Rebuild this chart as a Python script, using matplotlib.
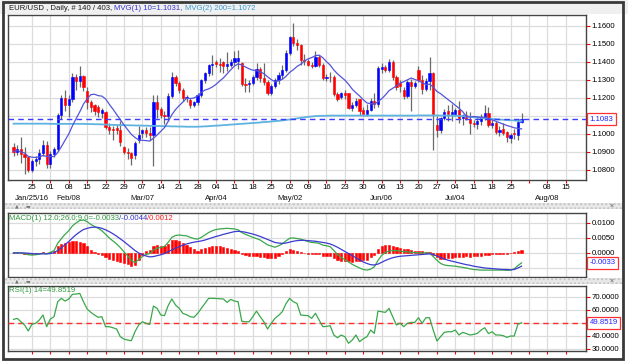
import matplotlib.pyplot as plt
import matplotlib.transforms as mtransforms
from matplotlib.patches import Rectangle
from matplotlib.offsetbox import TextArea, HPacker, AnchoredOffsetbox
import numpy as np
import pandas as pd

plt.rcParams['font.family'] = ['Liberation Sans', 'DejaVu Sans']

# ---- data: EUR/USD daily bars, 2016-01-18 .. 2016-07-28 ----
opens = [
    1.0928, 1.0902, 1.0914, 1.0886, 1.0874, 1.0800, 1.0848, 1.0862, 1.0895, 1.0940,
    1.0832, 1.0890, 1.0918, 1.1105, 1.1200, 1.1160, 1.1195, 1.1315, 1.1295, 1.1320,
    1.1240, 1.1180, 1.1160, 1.1150, 1.1115, 1.1124, 1.1040, 1.1030, 1.1032, 1.1022,
    1.0930, 1.0902, 1.0893, 1.0883, 1.0967, 1.1004, 1.1022, 1.1004, 1.0995, 1.1175,
    1.1140, 1.1105, 1.1100, 1.1210, 1.1315, 1.1282, 1.1245, 1.1200, 1.1190, 1.1162,
    1.1175, 1.1215, 1.1298, 1.1337, 1.1383, 1.1398, 1.1390, 1.1400, 1.1378, 1.1385,
    1.1400, 1.1405, 1.1395, 1.1280, 1.1275, 1.1285, 1.1316, 1.1360, 1.1310, 1.1290,
    1.1226, 1.1265, 1.1300, 1.1327, 1.1355, 1.1450, 1.1538, 1.1505, 1.1495, 1.1410,
    1.1405, 1.1385, 1.1376, 1.1430, 1.1385, 1.1310, 1.1318, 1.1318, 1.1222, 1.1205,
    1.1226, 1.1225, 1.1145, 1.1160, 1.1192, 1.1135, 1.1112, 1.1132, 1.1185, 1.1165,
    1.1360, 1.1370, 1.1356, 1.1402, 1.1318, 1.1285, 1.1245, 1.1210, 1.1290, 1.1265,
    1.1355, 1.1300, 1.1250, 1.1295, 1.1340, 1.1050, 1.1022, 1.1087, 1.1130, 1.1110,
    1.1110, 1.1133, 1.1087, 1.1105, 1.1083, 1.1060, 1.1055, 1.1070, 1.1096, 1.1115,
    1.1050, 1.1060, 1.1013, 1.1030, 1.1010, 1.0980, 1.1005, 1.0995, 1.1065,
]
highs = [
    1.0948, 1.0940, 1.0985, 1.0925, 1.0878, 1.0860, 1.0880, 1.0915, 1.0968, 1.0962,
    1.0905, 1.0930, 1.1115, 1.1215, 1.1245, 1.1215, 1.1340, 1.1335, 1.1378, 1.1330,
    1.1262, 1.1190, 1.1168, 1.1160, 1.1145, 1.1130, 1.1060, 1.1045, 1.1048, 1.1070,
    1.0935, 1.0920, 1.0900, 1.0960, 1.1045, 1.1030, 1.1040, 1.1040, 1.1218, 1.1218,
    1.1150, 1.1125, 1.1230, 1.1342, 1.1330, 1.1295, 1.1255, 1.1215, 1.1200, 1.1185,
    1.1225, 1.1305, 1.1345, 1.1390, 1.1438, 1.1410, 1.1420, 1.1405, 1.1455, 1.1415,
    1.1460, 1.1465, 1.1400, 1.1310, 1.1300, 1.1325, 1.1395, 1.1370, 1.1395, 1.1300,
    1.1275, 1.1310, 1.1345, 1.1385, 1.1465, 1.1545, 1.1616, 1.1530, 1.1500, 1.1445,
    1.1415, 1.1400, 1.1460, 1.1440, 1.1395, 1.1335, 1.1345, 1.1330, 1.1235, 1.1235,
    1.1245, 1.1230, 1.1175, 1.1200, 1.1195, 1.1150, 1.1165, 1.1200, 1.1225, 1.1375,
    1.1395, 1.1385, 1.1415, 1.1410, 1.1330, 1.1300, 1.1260, 1.1300, 1.1305, 1.1295,
    1.1380, 1.1325, 1.1310, 1.1428, 1.1345, 1.1100, 1.1095, 1.1140, 1.1160, 1.1165,
    1.1145, 1.1185, 1.1110, 1.1125, 1.1120, 1.1075, 1.1095, 1.1110, 1.1160, 1.1150,
    1.1085, 1.1070, 1.1045, 1.1060, 1.1015, 1.1005, 1.1030, 1.1075, 1.1115,
]
lows = [
    1.0880, 1.0885, 1.0838, 1.0780, 1.0790, 1.0790, 1.0820, 1.0835, 1.0880, 1.0810,
    1.0812, 1.0872, 1.0905, 1.1085, 1.1130, 1.1095, 1.1180, 1.1245, 1.1260, 1.1240,
    1.1140, 1.1120, 1.1105, 1.1095, 1.1090, 1.1030, 1.1000, 1.0968, 1.1000, 1.0935,
    1.0890, 1.0860, 1.0825, 1.0860, 1.0950, 1.0975, 1.0985, 1.0965, 1.0822, 1.1090,
    1.1090, 1.1058, 1.1070, 1.1200, 1.1265, 1.1230, 1.1185, 1.1180, 1.1145, 1.1150,
    1.1160, 1.1205, 1.1285, 1.1320, 1.1330, 1.1370, 1.1345, 1.1340, 1.1350, 1.1370,
    1.1385, 1.1360, 1.1265, 1.1235, 1.1235, 1.1270, 1.1300, 1.1290, 1.1270, 1.1215,
    1.1215, 1.1255, 1.1280, 1.1305, 1.1345, 1.1440, 1.1490, 1.1465, 1.1385, 1.1385,
    1.1375, 1.1365, 1.1370, 1.1370, 1.1300, 1.1295, 1.1290, 1.1210, 1.1185, 1.1195,
    1.1195, 1.1140, 1.1130, 1.1150, 1.1105, 1.1100, 1.1100, 1.1125, 1.1145, 1.1150,
    1.1340, 1.1345, 1.1345, 1.1300, 1.1245, 1.1235, 1.1195, 1.1200, 1.1130, 1.1255,
    1.1290, 1.1220, 1.1240, 1.1245, 1.0912, 1.0985, 1.1005, 1.1075, 1.1070, 1.1070,
    1.1100, 1.1060, 1.1050, 1.1075, 1.1000, 1.1040, 1.1030, 1.1050, 1.1080, 1.1040,
    1.1035, 1.1000, 1.0990, 1.0995, 1.0955, 1.0950, 1.0970, 1.0965, 1.1060,
]
closes = [
    1.0902, 1.0914, 1.0886, 1.0874, 1.0800, 1.0848, 1.0862, 1.0895, 1.0940, 1.0832,
    1.0890, 1.0918, 1.1105, 1.1200, 1.1160, 1.1195, 1.1315, 1.1295, 1.1320, 1.1262,
    1.1180, 1.1150, 1.1130, 1.1122, 1.1133, 1.1040, 1.1022, 1.1020, 1.1024, 1.0957,
    1.0902, 1.0893, 1.0865, 1.0948, 1.0994, 1.1022, 1.1004, 1.0995, 1.1178, 1.1140,
    1.1105, 1.1100, 1.1210, 1.1315, 1.1282, 1.1245, 1.1200, 1.1207, 1.1162, 1.1175,
    1.1215, 1.1298, 1.1337, 1.1383, 1.1388, 1.1390, 1.1385, 1.1378, 1.1390, 1.1400,
    1.1420, 1.1420, 1.1280, 1.1270, 1.1285, 1.1316, 1.1360, 1.1310, 1.1290, 1.1226,
    1.1265, 1.1300, 1.1327, 1.1355, 1.1450, 1.1538, 1.1505, 1.1495, 1.1410, 1.1405,
    1.1385, 1.1376, 1.1430, 1.1385, 1.1310, 1.1318, 1.1315, 1.1222, 1.1195, 1.1226,
    1.1215, 1.1145, 1.1160, 1.1185, 1.1130, 1.1112, 1.1132, 1.1185, 1.1165, 1.1368,
    1.1370, 1.1356, 1.1402, 1.1318, 1.1262, 1.1268, 1.1210, 1.1290, 1.1265, 1.1285,
    1.1300, 1.1250, 1.1295, 1.1340, 1.1105, 1.1022, 1.1087, 1.1124, 1.1110, 1.1124,
    1.1133, 1.1087, 1.1105, 1.1083, 1.1060, 1.1055, 1.1070, 1.1096, 1.1115, 1.1050,
    1.1060, 1.1013, 1.1023, 1.1004, 1.0985, 1.0995, 1.1000, 1.1065, 1.1083,
]
# 200-day moving average as drawn (light blue line)
ma200 = [
    1.1057, 1.1057, 1.1057, 1.1057, 1.1057, 1.1057, 1.1057, 1.1057, 1.1057, 1.1057,
    1.1056, 1.1056, 1.1056, 1.1056, 1.1056, 1.1056, 1.1056, 1.1056, 1.1056, 1.1056,
    1.1055, 1.1055, 1.1054, 1.1054, 1.1053, 1.1052, 1.1051, 1.1050, 1.1050, 1.1049,
    1.1049, 1.1048, 1.1048, 1.1047, 1.1047, 1.1046, 1.1046, 1.1045, 1.1045, 1.1044,
    1.1044, 1.1043, 1.1043, 1.1042, 1.1042, 1.1041, 1.1041, 1.1040, 1.1040, 1.1040,
    1.1040, 1.1041, 1.1042, 1.1043, 1.1045, 1.1046, 1.1047, 1.1049, 1.1050, 1.1052,
    1.1053, 1.1055, 1.1056, 1.1058, 1.1059, 1.1061, 1.1062, 1.1064, 1.1066, 1.1067,
    1.1069, 1.1071, 1.1073, 1.1075, 1.1078, 1.1080, 1.1083, 1.1086, 1.1089, 1.1092,
    1.1095, 1.1097, 1.1099, 1.1100, 1.1101, 1.1101, 1.1102, 1.1102, 1.1102, 1.1102,
    1.1102, 1.1102, 1.1102, 1.1102, 1.1102, 1.1102, 1.1102, 1.1102, 1.1102, 1.1102,
    1.1102, 1.1102, 1.1102, 1.1102, 1.1102, 1.1102, 1.1102, 1.1102, 1.1102, 1.1102,
    1.1103, 1.1103, 1.1103, 1.1103, 1.1103, 1.1103, 1.1102, 1.1102, 1.1102, 1.1101,
    1.1101, 1.1100, 1.1099, 1.1097, 1.1095, 1.1093, 1.1091, 1.1089, 1.1087, 1.1085,
    1.1083, 1.1082, 1.1080, 1.1079, 1.1077, 1.1076, 1.1075, 1.1073, 1.1072,
]
macd = [
    0.0000, 0.0001, 0.0000, -0.0002, -0.0006, -0.0007, -0.0006, -0.0004, -0.0001, -0.0003,
    0.0002, 0.0008, 0.0032, 0.0048, 0.0062, 0.0074, 0.0090, 0.0100, 0.0108, 0.0110,
    0.0104, 0.0095, 0.0088, 0.0082, 0.0074, 0.0062, 0.0050, 0.0040, 0.0030, 0.0018,
    0.0004, -0.0010, -0.0025, -0.0032, -0.0022, -0.0012, -0.0005, -0.0002, 0.0010, 0.0016,
    0.0018, 0.0022, 0.0035, 0.0052, 0.0058, 0.0060, 0.0058, 0.0057, 0.0052, 0.0048,
    0.0046, 0.0052, 0.0060, 0.0068, 0.0074, 0.0078, 0.0080, 0.0081, 0.0082, 0.0081,
    0.0080, 0.0077, 0.0068, 0.0062, 0.0057, 0.0052, 0.0048, 0.0043, 0.0035, 0.0027,
    0.0023, 0.0019, 0.0024, 0.0030, 0.0040, 0.0049, 0.0050, 0.0048, 0.0046, 0.0042,
    0.0038, 0.0035, 0.0034, 0.0032, 0.0026, 0.0024, 0.0021, 0.0008, -0.0005, -0.0015,
    -0.0022, -0.0030, -0.0038, -0.0044, -0.0050, -0.0055, -0.0057, -0.0054, -0.0046, -0.0025,
    -0.0008, 0.0002, 0.0006, 0.0008, 0.0008, 0.0006, 0.0004, 0.0004, 0.0002, 0.0001,
    0.0001, 0.0000, 0.0000, 0.0000, -0.0012, -0.0024, -0.0035, -0.0040, -0.0042, -0.0043,
    -0.0044, -0.0046, -0.0048, -0.0050, -0.0053, -0.0055, -0.0056, -0.0057, -0.0057, -0.0057,
    -0.0057, -0.0057, -0.0057, -0.0057, -0.0058, -0.0057, -0.0053, -0.0042, -0.0033,
]
signal = [
    0.0000, 0.0000, 0.0000, 0.0000, -0.0001, -0.0002, -0.0003, -0.0003, -0.0003, -0.0003,
    -0.0002, 0.0001, 0.0008, 0.0017, 0.0028, 0.0038, 0.0050, 0.0061, 0.0070, 0.0078,
    0.0082, 0.0085, 0.0086, 0.0085, 0.0082, 0.0077, 0.0071, 0.0064, 0.0056, 0.0047,
    0.0038, 0.0028, 0.0018, 0.0008, 0.0000, -0.0006, -0.0010, -0.0013, -0.0012, -0.0009,
    -0.0006, -0.0002, 0.0004, 0.0010, 0.0016, 0.0021, 0.0026, 0.0030, 0.0033, 0.0036,
    0.0038, 0.0040, 0.0043, 0.0047, 0.0051, 0.0055, 0.0058, 0.0062, 0.0065, 0.0068,
    0.0071, 0.0072, 0.0071, 0.0069, 0.0066, 0.0063, 0.0059, 0.0055, 0.0050, 0.0045,
    0.0040, 0.0035, 0.0033, 0.0032, 0.0033, 0.0036, 0.0039, 0.0041, 0.0042, 0.0042,
    0.0041, 0.0040, 0.0039, 0.0037, 0.0035, 0.0033, 0.0030, 0.0025, 0.0019, 0.0012,
    0.0005, -0.0002, -0.0009, -0.0016, -0.0023, -0.0030, -0.0035, -0.0039, -0.0040, -0.0037,
    -0.0031, -0.0025, -0.0020, -0.0016, -0.0013, -0.0011, -0.0010, -0.0009, -0.0008, -0.0007,
    -0.0006, -0.0005, -0.0004, -0.0003, -0.0005, -0.0010, -0.0015, -0.0020, -0.0024, -0.0027,
    -0.0030, -0.0033, -0.0036, -0.0039, -0.0041, -0.0044, -0.0046, -0.0048, -0.0050, -0.0051,
    -0.0052, -0.0053, -0.0054, -0.0055, -0.0055, -0.0056, -0.0055, -0.0050, -0.0044,
]
rsi = [
    52.4, 53.2, 50.6, 48.1, 43.5, 48.6, 49.4, 51.9, 55.8, 46.8,
    52.7, 54.5, 66.0, 68.6, 66.5, 68.1, 71.7, 71.9, 72.4, 66.0,
    60.4, 57.8, 55.8, 54.0, 54.5, 46.8, 46.8, 46.0, 45.0, 39.1,
    37.3, 36.5, 36.0, 43.0, 48.1, 50.6, 49.4, 48.5, 62.7, 60.9,
    55.8, 55.3, 63.0, 68.1, 63.5, 60.9, 57.0, 56.0, 54.5, 54.0,
    57.0, 60.9, 64.7, 68.6, 68.6, 68.5, 68.3, 68.1, 65.5, 67.8,
    66.5, 66.0, 51.0, 50.6, 50.6, 54.5, 58.8, 54.5, 50.6, 45.0,
    49.4, 53.2, 55.5, 58.3, 64.5, 68.6, 66.0, 64.7, 55.8, 55.5,
    55.3, 53.2, 57.1, 52.0, 46.8, 47.0, 47.6, 40.4, 38.3, 40.4,
    39.1, 34.0, 36.5, 40.4, 35.3, 37.5, 39.1, 44.2, 41.7, 58.8,
    58.3, 57.8, 60.9, 54.5, 48.1, 49.5, 46.8, 49.4, 50.1, 50.1,
    53.7, 49.4, 53.7, 53.7, 44.2, 35.8, 39.1, 42.4, 42.9, 42.9,
    44.2, 40.4, 42.4, 41.5, 40.4, 40.9, 41.7, 44.2, 46.0, 41.5,
    42.9, 40.4, 40.4, 39.9, 38.6, 39.6, 39.6, 48.6, 49.85,
]

last_price = 1.1083
last_macd, last_signal, last_hist = -0.0033, -0.0044, 0.0012
last_rsi = 49.8519

price_ticks = [1.08, 1.09, 1.10, 1.11, 1.12, 1.13, 1.14, 1.15, 1.16]
macd_ticks = [-0.005, 0.0, 0.005, 0.01]
rsi_ticks = [30, 40, 50, 60, 70]
month_labels = {"2016-01-25": "Jan/25/16", "2016-02-08": "Feb/08", "2016-03-07": "Mar/07",
                "2016-04-04": "Apr/04", "2016-05-02": "May/02", "2016-06-06": "Jun/06",
                "2016-07-04": "Jul/04", "2016-08-08": "Aug/08"}

# ---- bar positions (trading-day index) ----
days = pd.bdate_range("2016-01-18", "2016-08-19")
o, h, l, c = map(np.array, (opens, highs, lows, closes))
x = np.arange(len(c))
mondays = pd.date_range("2016-01-25", "2016-08-15", freq="W-MON")
tick_pos = [days.get_loc(d) for d in mondays]
day_labels = [d.strftime("%d") for d in mondays]
day_labels[mondays.get_loc(pd.Timestamp("2016-08-01"))] = ""

ma10 = pd.Series(c).rolling(10, min_periods=1).mean()
hist = np.array(macd) - np.array(signal)

# ---- figure layout in pixels ----
W, H = 628, 361
fig = plt.figure(figsize=(W / 100, H / 100), dpi=100, facecolor="white")

def px(l, t, r, b):
    return [l / W, 1 - b / H, (r - l) / W, (b - t) / H]

ax = fig.add_axes(px(8, 15, 586, 180))
axm = fig.add_axes(px(8, 213, 586, 277), sharex=ax)
axr = fig.add_axes(px(8, 286, 586, 351), sharex=ax)

FS = 5.6
for a in (ax, axm, axr):
    a.set_facecolor("white")
    for s in a.spines.values():
        s.set_color("#444444")
        s.set_linewidth(1)
    a.yaxis.tick_right()
    a.tick_params(axis="y", colors="red", labelcolor="black", length=3, width=0.8,
                  labelsize=FS, pad=1)
    a.tick_params(axis="x", colors="red", labelcolor="black", length=2, width=0.8,
                  labelsize=FS, pad=1)
    a.set_xticks(tick_pos)
    a.grid(True, color="#dcdcdc", lw=0.9)
    a.set_axisbelow(True)

ax.set_xlim(-1.5, 155.5)
ax.set_xticklabels(day_labels)
axm.tick_params(axis="x", labelbottom=False)
axr.tick_params(axis="x", labelbottom=False)

def tick_text(ticks, hidden):
    # the value box sits on top of the label at `hidden`
    return ["" if abs(v - hidden) < 1e-9 else f"{v:.4f}" for v in ticks]

# ---- price panel ----
ax.set_ylim(1.0744, 1.1661)
ax.set_yticks(price_ticks)
ax.set_yticklabels(tick_text(price_ticks, 1.11))

up = c >= o
ax.vlines(x, l, h, color="#6a6a6a", lw=0.9, zorder=2)
ax.bar(x, np.abs(c - o), bottom=np.minimum(o, c), width=0.6,
       color=np.where(up, "#0000ff", "#ff0000"), edgecolor=np.where(up, "#0000ff", "#ff0000"),
       lw=0.4, zorder=3)
ax.plot(x, ma200, color="#5fb3e0", lw=1.3, zorder=4)
ax.plot(x, ma10, color="#5454d8", lw=0.9, zorder=4)
ax.axhline(last_price, color="#3c3cff", lw=1.0, ls=(0, (4, 3)), zorder=4)

def value_box(a, y, s):
    tr = mtransforms.blended_transform_factory(a.transAxes, a.transData)
    a.text(1.006, y, s, transform=tr, fontsize=FS, color="#2020ff", va="center", ha="left",
           zorder=10, clip_on=False,
           bbox=dict(boxstyle="square,pad=0.32", fc="white", ec="#ff3030", lw=0.9))

value_box(ax, last_price, f"{last_price:.4f}")

# month row under the day numbers
xtr = mtransforms.blended_transform_factory(ax.transData, fig.transFigure)
for d, lab in month_labels.items():
    ax.text(days.get_loc(pd.Timestamp(d)), 1 - 199 / H, lab, transform=xtr, fontsize=FS,
            ha="center", va="center", color="#111111")

# ---- MACD panel ----
axm.set_ylim(-0.0080, 0.0133)
axm.set_yticks(macd_ticks)
axm.set_yticklabels([f"{v:.4f}" for v in macd_ticks])
axm.bar(x, hist, width=0.6, color="#ff0000", edgecolor="#ff0000", lw=0.4, zorder=3)
axm.plot(x, macd, color="#3aa84a", lw=0.9, zorder=4)
axm.plot(x, signal, color="#3b3bd0", lw=0.9, zorder=4)
value_box(axm, last_macd, f"{last_macd:.4f}")

# ---- RSI panel ----
axr.set_ylim(28.1, 78.1)
axr.set_yticks(rsi_ticks)
axr.set_yticklabels(tick_text(rsi_ticks, 50))
axr.plot(x, rsi, color="#3aa84a", lw=0.9, zorder=4)
axr.axhline(last_rsi, color="#ff3030", lw=1.0, ls=(0, (4, 3)), zorder=3)
value_box(axr, last_rsi, f"{last_rsi:.4f}")

# ---- chrome: title strip, separators, frame ----
fig.patches.append(Rectangle((0, 1 - 14 / H), 1, 14 / H, transform=fig.transFigure,
                             fc="#f0f0f0", ec="none", zorder=0))
for top in (203, 278):
    fig.patches.append(Rectangle((4 / W, 1 - (top + 6) / H), 618 / W, 6 / H,
                                 transform=fig.transFigure, fc="#e8e8e8", ec="#c4c4c4",
                                 hatch="....", lw=0, zorder=1))
    fig.text(612 / W, 1 - (top + 3) / H, "×", fontsize=5, color="#555555",
             ha="center", va="center")
    fig.text(17 / W, 1 - (top + 3) / H, "▲", fontsize=3.5, color="#777777",
             ha="center", va="center", family="DejaVu Sans")
    fig.text(28 / W, 1 - (top + 3) / H, "▬", fontsize=3.5, color="#777777",
             ha="center", va="center", family="DejaVu Sans")
fig.patches.append(Rectangle((3 / W, 2 / H), 620 / W, 357 / H, transform=fig.transFigure,
                             fc="none", ec="#3a3a3a", lw=2, zorder=5))

def colored_line(parts, xy, sep):
    boxes = [TextArea(s, textprops=dict(color=col, fontsize=FS)) for s, col in parts]
    pack = HPacker(children=boxes, align="baseline", pad=0, sep=sep)
    anch = AnchoredOffsetbox(loc="center left", child=pack, pad=0, borderpad=0,
                             frameon=False, bbox_to_anchor=xy,
                             bbox_transform=fig.transFigure)
    anch.set_zorder(8)
    fig.add_artist(anch)

colored_line([("EUR/USD , Daily, # 140 / 403,", "#1a1a1a"),
              ("MVG(1) 10=1.1031,", "#3434d0"),
              ("MVG(2) 200=1.1072", "#3a9ad0")], (9 / W, 1 - 9 / H), 1.6)
colored_line([("MACD(1) 12.0;26.0;9.0=-0.0033", "#2e9a3e"),
              ("/-0.0044", "#3434d0"),
              ("/0.0012", "#ff2020")], (9 / W, 1 - 218 / H), 0)
colored_line([("RSI(1) 14=49.8519", "#2e9a3e")], (9 / W, 1 - 291 / H), 0)

fig.savefig("out.png", dpi=100, facecolor=fig.get_facecolor())
